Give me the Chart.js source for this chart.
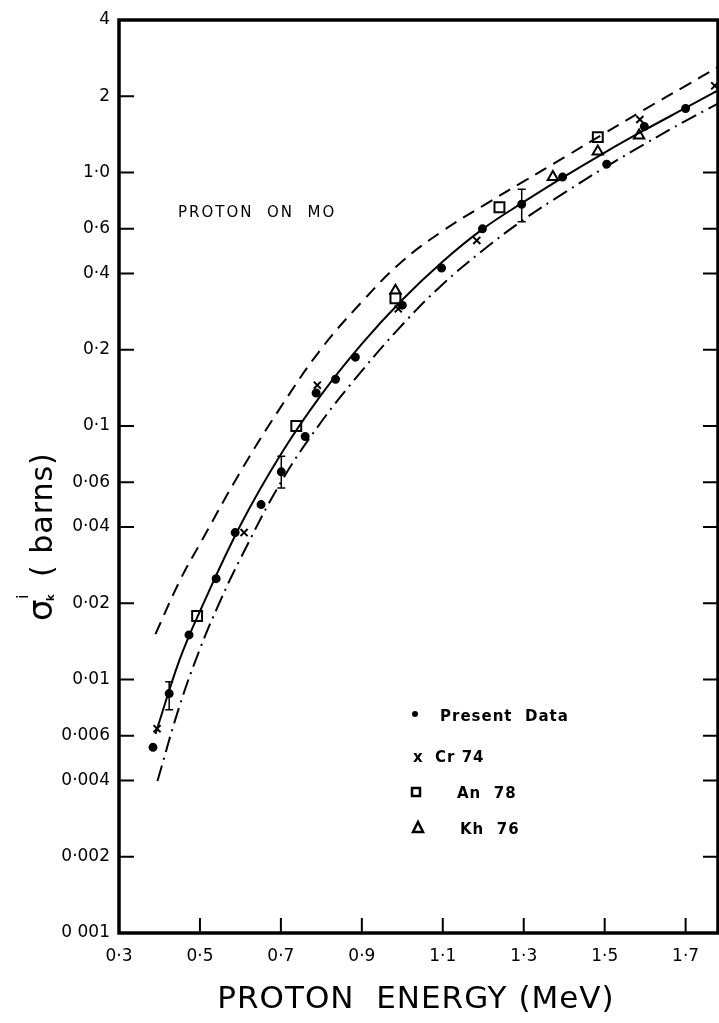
<!DOCTYPE html>
<html>
<head>
<meta charset="utf-8">
<script src="https://cdn.jsdelivr.net/npm/chart.js@4.4.1/dist/chart.umd.min.js"></script>
<style>
  html, body { margin: 0; padding: 0; background: #fff; }
</style>
</head>
<body>
<canvas id="xsecChart" width="719" height="1023"></canvas>
<script>
// axis ticks
const xTicks = [0.3, 0.5, 0.7, 0.9, 1.1, 1.3, 1.5, 1.7];
const xTickLabels = ['0·3', '0·5', '0·7', '0·9', '1·1', '1·3', '1·5', '1·7'];
const yTicks = [0.001, 0.002, 0.004, 0.006, 0.01, 0.02, 0.04, 0.06, 0.1, 0.2, 0.4, 0.6, 1, 2, 4];
const yTickLabels = ['0 001', '0·002', '0·004', '0·006', '0·01', '0·02', '0·04', '0·06', '0·1', '0·2', '0·4', '0·6', '1·0', '2', '4'];

// theory curves (MeV, barns)
const fitE = [0.39, 0.45, 0.5, 0.6, 0.7, 0.8, 0.9, 1.0, 1.1, 1.2, 1.3, 1.4, 1.5, 1.6, 1.7, 1.78];
const fitSigma = [0.0061, 0.012, 0.0186, 0.0406, 0.0774, 0.133, 0.211, 0.315, 0.446, 0.601, 0.766, 0.964, 1.20, 1.476, 1.80, 2.11];
const upperE = [0.39, 0.45, 0.5, 0.6, 0.7, 0.8, 0.9, 1.0, 1.1, 1.2, 1.3, 1.4, 1.5, 1.6, 1.7, 1.78];
const upperSigma = [0.0151, 0.0245, 0.0343, 0.066, 0.119, 0.202, 0.309, 0.447, 0.589, 0.741, 0.923, 1.148, 1.43, 1.78, 2.2, 2.61];
const lowerE = [0.395, 0.45, 0.5, 0.55, 0.6, 0.7, 0.8, 0.9, 1.0, 1.1, 1.2, 1.3, 1.4, 1.5, 1.6, 1.7, 1.78];
const lowerSigma = [0.00398, 0.0079, 0.0132, 0.0204, 0.030, 0.060, 0.104, 0.165, 0.251, 0.363, 0.495, 0.653, 0.832, 1.047, 1.30, 1.60, 1.87];

// measured points
const presentE = [0.384, 0.424, 0.473, 0.540, 0.587, 0.651, 0.701, 0.760, 0.787, 0.835, 0.884, 1.000, 1.097, 1.198, 1.295, 1.396, 1.505, 1.598, 1.700];
const presentSigma = [0.0054, 0.0088, 0.015, 0.025, 0.038, 0.049, 0.066, 0.091, 0.135, 0.153, 0.187, 0.30, 0.42, 0.60, 0.75, 0.96, 1.08, 1.52, 1.79];
const cr74E = [0.394, 0.609, 0.790, 0.990, 1.184, 1.587, 1.772];
const cr74Sigma = [0.0064, 0.038, 0.145, 0.29, 0.54, 1.62, 2.2];
const an78E = [0.493, 0.738, 0.983, 1.240, 1.483];
const an78Sigma = [0.0178, 0.100, 0.319, 0.73, 1.38];
const kh76E = [0.983, 1.372, 1.483, 1.585];
const kh76Sigma = [0.342, 0.96, 1.21, 1.40];

// error bars on present data
const errE = [0.424, 0.701, 1.295];
const errLow = [0.0076, 0.057, 0.64];
const errHigh = [0.0098, 0.076, 0.86];

const pts = (xs, ys) => xs.map((x, i) => ({ x, y: ys[i] }));
const FONT = "'DejaVu Sans', sans-serif";

const curve = (data, dash) => ({
  type: 'line', data, borderColor: '#000', borderWidth: 2, borderDash: dash,
  pointRadius: 0, tension: 0.4, fill: false,
});
const marks = (data, style, r, filled) => ({
  type: 'scatter', data, pointStyle: style, pointRadius: r,
  pointBorderColor: '#000', pointBorderWidth: 2,
  pointBackgroundColor: filled ? '#000' : '#fff',
});

const framePlugin = {
  id: 'frame',
  afterDatasetsDraw(chart) {
    const { ctx, chartArea: a, scales } = chart;
    ctx.save();
    ctx.strokeStyle = '#000';

    // error bars
    ctx.lineWidth = 1.5;
    errE.forEach((e, i) => {
      const x = scales.x.getPixelForValue(e);
      const y1 = scales.y.getPixelForValue(errLow[i]);
      const y2 = scales.y.getPixelForValue(errHigh[i]);
      ctx.beginPath();
      ctx.moveTo(x, y1); ctx.lineTo(x, y2);
      ctx.moveTo(x - 4, y1); ctx.lineTo(x + 4, y1);
      ctx.moveTo(x - 4, y2); ctx.lineTo(x + 4, y2);
      ctx.stroke();
    });

    // inward tick marks
    ctx.lineWidth = 2;
    ctx.beginPath();
    yTicks.forEach(v => {
      if (v === 0.001 || v === 4) return;
      const y = scales.y.getPixelForValue(v);
      ctx.moveTo(a.left, y); ctx.lineTo(a.left + 15, y);
      if (v < 2) { ctx.moveTo(a.right, y); ctx.lineTo(a.right - 15, y); }
    });
    xTicks.forEach(v => {
      if (v === 0.3) return;
      const x = scales.x.getPixelForValue(v);
      ctx.moveTo(x, a.bottom); ctx.lineTo(x, a.bottom - 15);
    });
    ctx.stroke();

    // frame
    ctx.lineWidth = 3.5;
    ctx.strokeRect(a.left, a.top, a.right - a.left, a.bottom - a.top);
    ctx.restore();
  },
  afterDraw(chart) {
    const { ctx } = chart;
    ctx.save();
    ctx.fillStyle = '#000';
    ctx.strokeStyle = '#000';
    ctx.textBaseline = 'alphabetic';

    // annotation
    ctx.font = `15px ${FONT}`;
    ctx.letterSpacing = '2px';
    ctx.fillText('PROTON  ON  MO', 178, 217);

    // legend
    ctx.font = `bold 15px ${FONT}`;
    ctx.letterSpacing = '1px';
    ctx.beginPath(); ctx.arc(415, 714, 3, 0, Math.PI * 2); ctx.fill();
    ctx.fillText('Present  Data', 440, 721);
    ctx.fillText('x', 413, 762);
    ctx.fillText('Cr 74', 435, 762);
    ctx.lineWidth = 2.5;
    ctx.strokeRect(412, 788, 8, 8);
    ctx.fillText('An  78', 457, 798);
    ctx.beginPath();
    ctx.moveTo(418, 822); ctx.lineTo(423, 832); ctx.lineTo(413, 832); ctx.closePath();
    ctx.stroke();
    ctx.fillText('Kh  76', 460, 834);

    // x axis title
    ctx.letterSpacing = '1px';
    ctx.font = `31px ${FONT}`;
    ctx.textAlign = 'center';
    ctx.fillText('PROTON  ENERGY (MeV)', 416, 1008);

    // y axis title
    ctx.translate(52, 525);
    ctx.rotate(-Math.PI / 2);
    ctx.textAlign = 'left';
    ctx.letterSpacing = '1px';
    ctx.font = `34px ${FONT}`;
    ctx.fillText('σ', -96, 0);
    ctx.font = `16px ${FONT}`;
    ctx.fillText('i', -74, -24);
    ctx.font = `bold 10px ${FONT}`;
    ctx.fillText('k', -76, 2);
    ctx.font = `30px ${FONT}`;
    ctx.fillText('( barns)', -52, 0);
    ctx.restore();
  },
};

new Chart(document.getElementById('xsecChart'), {
  data: {
    datasets: [
      curve(pts(fitE, fitSigma), []),
      curve(pts(upperE, upperSigma), [13, 8]),
      curve(pts(lowerE, lowerSigma), [16, 6, 2, 6]),
      marks(pts(presentE, presentSigma), 'circle', 3.5, true),
      marks(pts(cr74E, cr74Sigma), 'crossRot', 5, false),
      marks(pts(an78E, an78Sigma), 'rect', 7, false),
      marks(pts(kh76E, kh76Sigma), 'triangle', 6, false),
    ],
  },
  options: {
    responsive: false,
    devicePixelRatio: 1,
    animation: false,
    layout: { autoPadding: false, padding: { top: 20, right: 1, left: 0, bottom: 0 } },
    plugins: { legend: { display: false }, tooltip: { enabled: false } },
    scales: {
      x: {
        type: 'linear', min: 0.3, max: 1.78,
        grid: { display: false, drawTicks: false },
        border: { display: false },
        afterBuildTicks: s => { s.ticks = xTicks.map(v => ({ value: v })); },
        afterFit: s => { s.height = 90; s.paddingLeft = 0; s.paddingRight = 0; },
        ticks: {
          autoSkip: false, maxRotation: 0, padding: 13, color: '#000',
          font: { family: FONT, size: 17 },
          callback: (v, i) => xTickLabels[i],
        },
      },
      y: {
        type: 'logarithmic', min: 0.001, max: 4,
        grid: { display: false, drawTicks: false },
        border: { display: false },
        afterBuildTicks: s => { s.ticks = yTicks.map(v => ({ value: v })); },
        afterFit: s => { s.width = 119; s.paddingTop = 0; s.paddingBottom = 0; },
        ticks: {
          autoSkip: false, padding: 9, color: '#000',
          font: { family: FONT, size: 17 },
          callback: (v, i) => yTickLabels[i],
        },
      },
    },
  },
  plugins: [framePlugin],
});
</script>
</body>
</html>
